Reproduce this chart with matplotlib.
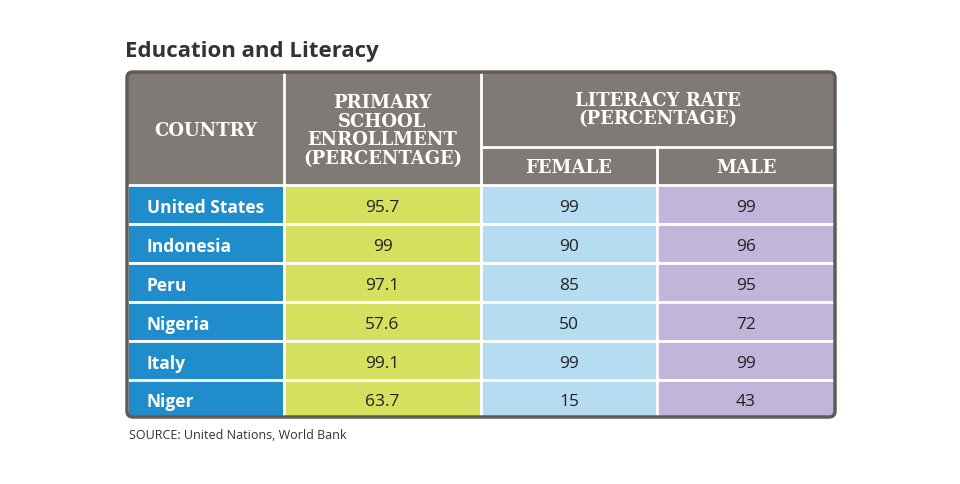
import matplotlib.pyplot as plt
from matplotlib.patches import Rectangle, FancyBboxPatch

countries = ["United States", "Indonesia", "Peru", "Nigeria", "Italy", "Niger"]
enrollment = ["95.7", "99", "97.1", "57.6", "99.1", "63.7"]
female = ["99", "90", "85", "50", "99", "15"]
male = ["99", "96", "95", "72", "99", "43"]

W, H = 960, 485
fig = plt.figure(figsize=(W / 100, H / 100), dpi=100)
ax = fig.add_axes([0, 0, 1, 1])
ax.set_xlim(0, W)
ax.set_ylim(H, 0)
ax.axis("off")

cols = [127, 284, 481, 657, 835]
top, head_bot, split = 73, 186, 148
bottom = 418
row_edges = [186, 225, 264, 303, 342, 381, 418]
gray = "#7f7a75"
fills = ["#1f8ccb", "#d4e05e", "#b6dcf1", "#c1b5d9"]
hfont = dict(family="DejaVu Serif", weight="bold", color="white", fontsize=13)
bfont = dict(family="Open Sans", fontsize=12.5, color="#222222")

# header background
ax.add_patch(Rectangle((cols[0], top), cols[-1] - cols[0], head_bot - top,
                       fc=gray, ec="none", zorder=1))

# body cells
for r in range(6):
    y0, y1 = row_edges[r], row_edges[r + 1]
    for c in range(4):
        ax.add_patch(Rectangle((cols[c], y0), cols[c + 1] - cols[c], y1 - y0,
                               fc=fills[c], ec="white", lw=2, zorder=2))
    yc = (y0 + y1) / 2 + 3
    ax.text(cols[0] + 20, yc, countries[r], ha="left", va="center", zorder=3,
            family="Open Sans", weight="bold", fontsize=12.5, color="white")
    for c, vals in zip([1, 2, 3], [enrollment, female, male]):
        ax.text((cols[c] + cols[c + 1]) / 2, yc, vals[r], ha="center", va="center",
                zorder=3, **bfont)

# outer frame on top
ax.add_patch(FancyBboxPatch((cols[0], top), cols[-1] - cols[0], bottom - top,
                            boxstyle="round,pad=0,rounding_size=6",
                            fc="none", ec="#5f5b58", lw=2.5, zorder=4))

# header dividers
for x in cols[1:-1]:
    y_start = split if x == cols[3] else top
    ax.plot([x, x], [y_start, head_bot], color="white", lw=2, zorder=3)
ax.plot([cols[2], cols[4] - 1], [split, split], color="white", lw=2, zorder=3)

ax.text((cols[0] + cols[1]) / 2, 131, "COUNTRY", ha="center", va="center", **hfont)
ax.text((cols[1] + cols[2]) / 2, 131, "PRIMARY\nSCHOOL\nENROLLMENT\n(PERCENTAGE)",
        ha="center", va="center", linespacing=1.05, **hfont)
ax.text((cols[2] + cols[4]) / 2, 110, "LITERACY RATE\n(PERCENTAGE)",
        ha="center", va="center", linespacing=1.05, **hfont)
ax.text((cols[2] + cols[3]) / 2, 168, "FEMALE", ha="center", va="center", **hfont)
ax.text((cols[3] + cols[4]) / 2, 168, "MALE", ha="center", va="center", **hfont)

ax.text(125, 52, "Education and Literacy", ha="left", va="center",
        family="Open Sans", weight="bold", fontsize=16, color="#333333")
ax.text(129, 436, "SOURCE: United Nations, World Bank", ha="left", va="center",
        family="Open Sans", fontsize=9, color="#333333")

fig.savefig("out.png", dpi=100, facecolor="white")
